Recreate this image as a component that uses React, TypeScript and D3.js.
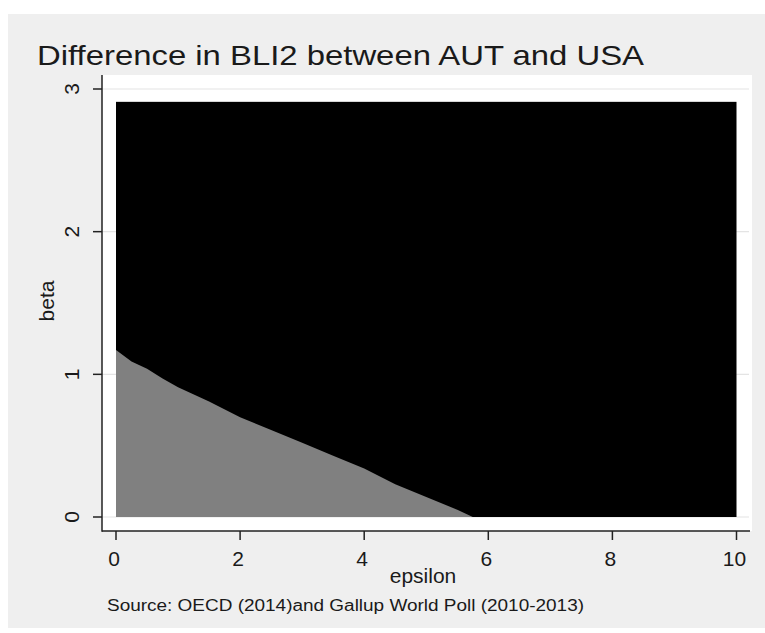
import * as d3 from "d3";

// grid of the heat plot
const epsRange = [0, 10];
const betaMax = 2.91;

// upper edge of the grey region (epsilon, beta)
const edgeEps = [0, 0.25, 0.5, 0.75, 1, 1.5, 2, 2.5, 3, 3.5, 4, 4.5, 5, 5.5, 5.75];
const edgeBeta = [1.17, 1.09, 1.04, 0.97, 0.91, 0.81, 0.7, 0.61, 0.52, 0.43, 0.34, 0.23, 0.14, 0.05, 0];

const xTicks = [0, 2, 4, 6, 8, 10];
const yTicks = [0, 1, 2, 3];

const title = "Difference in BLI2 between AUT and USA";
const note = "Source: OECD (2014)and Gallup World Poll (2010-2013)";

const W = 765;
const H = 633;
const font = "'Liberation Sans', Arial, sans-serif";

export default function App() {
  const plot = { left: 102, right: 752, top: 75, bottom: 531 };

  const x = d3.scaleLinear().domain([0, 10]).range([116, 736.5]);
  const y = d3.scaleLinear().domain([0, 3]).range([517, 89]);

  const edge = edgeEps.map((e, i) => ({ e, b: edgeBeta[i] }));
  const area = d3
    .area<{ e: number; b: number }>()
    .x((d) => x(d.e))
    .y0(y(0))
    .y1((d) => y(d.b));

  return (
    <svg
      width={W}
      height={H}
      style={{ position: "absolute", left: 0, top: 0, display: "block" }}
      fontFamily={font}
    >
      <rect x={0} y={0} width={W} height={H} fill="#ffffff" />
      <rect x={8} y={14} width={W - 8} height={614} fill="#efefef" />

      <text x={37} y={65} fontSize={28} fill="#1a1a1a" textLength={607} lengthAdjust="spacingAndGlyphs">
        {title}
      </text>

      {/* plot region */}
      <rect
        x={plot.left}
        y={plot.top}
        width={plot.right - plot.left}
        height={plot.bottom - plot.top}
        fill="#ffffff"
      />
      {yTicks.map((t) => (
        <line
          key={"g" + t}
          x1={plot.left}
          x2={plot.right - 3}
          y1={y(t)}
          y2={y(t)}
          stroke="#e4e4e4"
          strokeWidth={1.2}
        />
      ))}

      {/* result cells */}
      <rect
        x={x(epsRange[0])}
        y={y(betaMax)}
        width={x(epsRange[1]) - x(epsRange[0])}
        height={y(0) - y(betaMax)}
        fill="#000000"
      />
      <path d={area(edge) ?? ""} fill="#808080" />

      {/* axes */}
      <line x1={plot.left} x2={plot.left} y1={plot.top} y2={plot.bottom + 0.75} stroke="#222" strokeWidth={1.5} />
      <line x1={plot.left} x2={plot.right - 2} y1={plot.bottom} y2={plot.bottom} stroke="#222" strokeWidth={1.5} />

      {yTicks.map((t) => (
        <g key={"y" + t}>
          <line x1={plot.left - 9} x2={plot.left} y1={y(t)} y2={y(t)} stroke="#222" strokeWidth={1.5} />
          <text
            transform={`translate(79,${y(t)}) rotate(-90)`}
            textAnchor="middle"
            fontSize={21}
            fill="#1a1a1a"
          >
            {t}
          </text>
        </g>
      ))}

      {xTicks.map((t) => (
        <g key={"x" + t}>
          <line x1={x(t)} x2={x(t)} y1={plot.bottom} y2={plot.bottom + 9} stroke="#222" strokeWidth={1.5} />
          <text x={x(t) - 2} y={566} textAnchor="middle" fontSize={21} fill="#1a1a1a">
            {t}
          </text>
        </g>
      ))}

      <text x={423} y={583} textAnchor="middle" fontSize={21} fill="#1a1a1a">
        epsilon
      </text>
      <text transform="translate(54,301) rotate(-90)" textAnchor="middle" fontSize={21} fill="#1a1a1a">
        beta
      </text>

      <text x={107} y={611} fontSize={16} fill="#1a1a1a" textLength={477} lengthAdjust="spacingAndGlyphs">
        {note}
      </text>
    </svg>
  );
}
